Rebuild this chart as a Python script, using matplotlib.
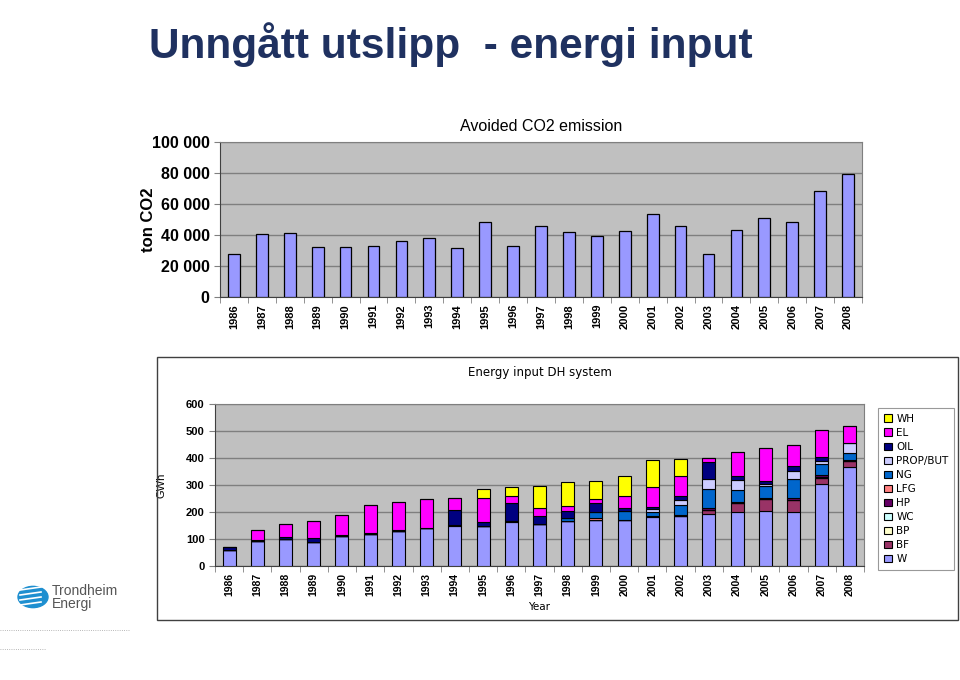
import numpy as np
import matplotlib
matplotlib.use("Agg")
import matplotlib.pyplot as plt
from matplotlib.patches import Rectangle, Circle

plt.rcParams['font.family'] = ['Liberation Sans', 'DejaVu Sans']

years = [str(y) for y in range(1986, 2009)]

# Avoided CO2 emission, ton CO2
co2 = [28000, 40500, 41000, 32000, 32500, 33000, 36200, 38000, 31800, 48400, 33000, 45600,
       42200, 39400, 42600, 53600, 46100, 28000, 43300, 51000, 48400, 68200, 79500]

# Energy input DH system, GWh (stack order bottom -> top)
W = [59, 92, 100, 90, 112, 120, 131, 142, 148, 150, 162, 156, 166, 172, 169, 182, 184, 194, 199, 202, 200, 302, 366]
BF = [0, 0, 0, 0, 0, 0, 0, 0, 5, 0, 5, 0, 0, 0, 0, 4, 0, 12, 34, 45, 45, 24, 24]
BP = [0] * 23
WC = [0] * 21 + [4, 0]
HP = [0] * 16 + [5, 9, 4, 6, 7, 7, 4]
LFG = [0] * 13 + [5] + [0] * 9
NG = [0] * 12 + [11, 24, 35, 14, 37, 71, 45, 43, 69, 41, 23]
PROP = [0] * 15 + [10, 17, 37, 35, 7, 32, 12, 37]
OIL = [11, 6, 8, 12, 2, 1, 1, 0, 53, 12, 65, 28, 27, 32, 11, 8, 17, 61, 17, 10, 18, 12, 0]
EL = [0, 34, 47, 66, 76, 105, 104, 107, 47, 91, 28, 31, 18, 16, 45, 76, 73, 15, 87, 124, 79, 101, 64]
WH = [0] * 9 + [32, 34, 82, 90, 66, 75, 99, 63] + [0] * 6

series = [("W", W, "#9999FF"), ("BF", BF, "#993366"), ("BP", BP, "#FFFFCC"),
          ("WC", WC, "#CCFFFF"), ("HP", HP, "#660066"), ("LFG", LFG, "#FF8080"),
          ("NG", NG, "#0066CC"), ("PROP/BUT", PROP, "#CCCCFF"), ("OIL", OIL, "#000080"),
          ("EL", EL, "#FF00FF"), ("WH", WH, "#FFFF00")]

W_PX, H_PX = 960, 680
fig = plt.figure(figsize=(9.6, 6.8), dpi=100)


def fig_rect(x0, y0, x1, y1):
    return [x0 / W_PX, 1 - y1 / H_PX, (x1 - x0) / W_PX, (y1 - y0) / H_PX]


def excel_axes(ax, n):
    ax.set_facecolor("#C0C0C0")
    ax.set_xlim(-0.5, n - 0.5)
    ax.set_axisbelow(True)
    ax.yaxis.grid(True, color="#7F7F7F", linewidth=1)
    for s in ["top", "right"]:
        ax.spines[s].set_color("#7F7F7F")
    ax.spines["left"].set_color("#404040")
    ax.spines["bottom"].set_color("#404040")
    ax.set_xticks(np.arange(n))
    ax.set_xticks(np.arange(n + 1) - 0.5, minor=True)
    ax.tick_params(axis="x", which="major", length=0, pad=5)
    ax.tick_params(axis="x", which="minor", length=4, color="#808080")
    ax.tick_params(axis="y", length=4, color="#808080")


fig.text(0.155, 1 - 45 / H_PX, "Unngått utslipp  - energi input", fontsize=30.5,
         fontweight="bold", color="#1F3160", va="center", ha="left")

# top chart
ax1 = fig.add_axes(fig_rect(220, 142, 862, 297))
x = np.arange(len(years))
ax1.bar(x, co2, width=0.42, color="#9999FF", edgecolor="black", linewidth=0.9, zorder=3)
excel_axes(ax1, len(years))
ax1.set_ylim(0, 100000)
ax1.set_yticks(range(0, 100001, 20000))
ax1.set_yticklabels([f"{v:,}".replace(",", " ") for v in range(0, 100001, 20000)],
                    fontsize=11.5, fontweight="bold")
ax1.set_xticklabels(years, rotation=90, fontsize=8, fontweight="bold")
ax1.set_ylabel("ton CO2", fontsize=12, fontweight="bold", labelpad=-3)
ax1.set_title("Avoided CO2 emission", fontsize=11.5, pad=8)

# bottom chart
fig.patches.append(Rectangle((157 / W_PX, 1 - 620 / H_PX), (958 - 157) / W_PX, (620 - 357) / H_PX,
                             transform=fig.transFigure, fill=False, edgecolor="#404040", linewidth=1))
ax2 = fig.add_axes(fig_rect(215, 404, 864, 566))
bottom = np.zeros(len(years))
handles = []
for name, vals, col in series:
    vals = np.array(vals, dtype=float)
    b = ax2.bar(x, vals, bottom=bottom, width=0.46, color=col, edgecolor="black",
                linewidth=0.8, zorder=3, label=name)
    handles.append(b)
    bottom += vals
excel_axes(ax2, len(years))
ax2.set_ylim(0, 600)
ax2.set_yticks(range(0, 601, 100))
ax2.set_yticklabels([str(v) for v in range(0, 601, 100)], fontsize=8, fontweight="bold")
ax2.set_xticklabels(years, rotation=90, fontsize=7.5, fontweight="bold")
ax2.set_ylabel("GWh", fontsize=8, labelpad=14)
ax2.set_xlabel("Year", fontsize=7.5, family="DejaVu Sans", labelpad=4)
ax2.set_title("Energy input DH system", fontsize=8.5, family="DejaVu Sans", pad=20)

leg = fig.legend(handles[::-1], [s[0] for s in series][::-1], loc="upper left",
                 bbox_to_anchor=(878 / W_PX, 1 - 408 / H_PX), frameon=True, fancybox=False,
                 prop={"family": "DejaVu Sans", "size": 7.5},
                 handlelength=0.8, handleheight=0.7, handletextpad=0.4,
                 labelspacing=0.39, borderpad=0.55, borderaxespad=0)
leg.get_frame().set_edgecolor("#808080")
leg.get_frame().set_linewidth(0.8)

# logo
lx, ly = 33 / W_PX, 1 - 597 / H_PX
logo = Circle((lx, ly), 15 / W_PX, transform=fig.transFigure, color="#1E8FD0")
fig.patches.append(logo)
for dy in [-8, -3, 2, 7]:
    fig.add_artist(plt.Line2D([lx - 13 / W_PX, lx + 8 / W_PX], [ly + dy / H_PX, ly + (dy + 3) / H_PX],
                              transform=fig.transFigure, color="white", linewidth=1.2))
fig.text(52 / W_PX, 1 - 591 / H_PX, "Trondheim", fontsize=10, color="#555555", va="center")
fig.text(52 / W_PX, 1 - 604 / H_PX, "Energi", fontsize=10, color="#555555", va="center")
fig.add_artist(plt.Line2D([0, 130 / W_PX], [1 - 630 / H_PX] * 2, transform=fig.transFigure,
                          color="#A0A0A0", linewidth=0.6, linestyle=":"))
fig.add_artist(plt.Line2D([0, 45 / W_PX], [1 - 649 / H_PX] * 2, transform=fig.transFigure,
                          color="#A0A0A0", linewidth=0.6, linestyle=":"))

fig.savefig("out.png", dpi=100, facecolor="white")
